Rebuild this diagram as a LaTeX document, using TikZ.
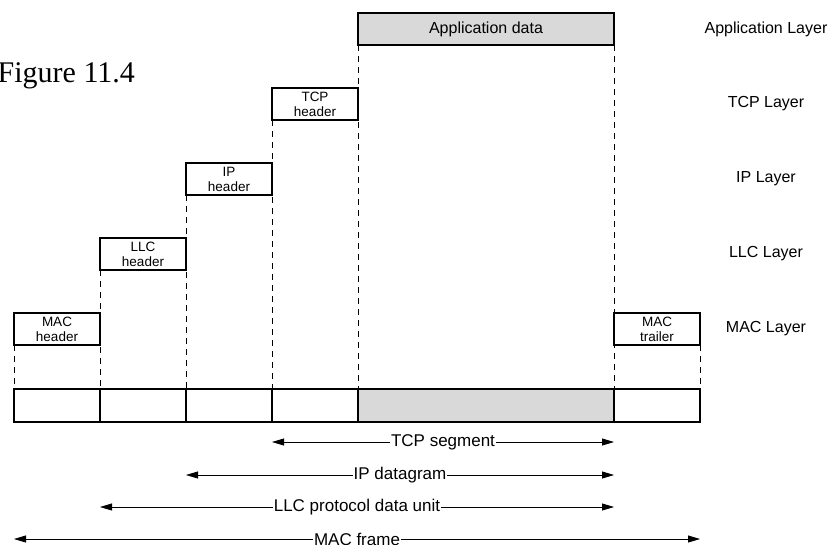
\documentclass[tikz,border=0pt]{standalone}
\usepackage{fontspec}
\setmainfont{Liberation Sans}
\newfontfamily\figfont{Liberation Serif}
\usepackage{tikz}
\usetikzlibrary{arrows.meta, positioning}
\definecolor{PDUGray}{HTML}{D9D9D9}

\begin{document}
\begin{tikzpicture}[
  x=1pt, y=-1pt,
  pdu/.style={rectangle, draw, line width=1.8pt, outer sep=0pt, inner sep=0pt, minimum width=86pt, minimum height=32pt, align=center, font=\fontsize{13.5}{15}\selectfont},
  appbox/.style={pdu, minimum width=256pt, fill=PDUGray, font=\fontsize{16}{18}\selectfont},
  cell/.style={pdu, minimum height=33pt},
  layer/.style={font=\fontsize{16}{18}\selectfont},
  guide/.style={line width=0.9pt, dash pattern=on 6pt off 5pt},
  span/.style={{Triangle[length=12pt,width=7pt]}-{Triangle[length=12pt,width=7pt]}, line width=0.8pt},
  lbl/.style={fill=white, inner sep=1pt, font=\fontsize{17}{19}\selectfont}
]
\useasboundingbox (0,0) rectangle (830,544);

\node[anchor=base west, inner sep=0pt, font=\figfont\fontsize{30}{32}\selectfont] (fig) at (-2.5,82) {Figure 11.4};

% headers, one layer down each
\node[appbox] (app) at (486,29) {Application data};
\node[pdu, below left=43pt and 0pt of app] (tcphdr) {TCP\\header};
\node[pdu, below left=43pt and 0pt of tcphdr] (iphdr) {IP\\header};
\node[pdu, below left=43pt and 0pt of iphdr] (llchdr) {LLC\\header};
\node[pdu, below left=43pt and 0pt of llchdr] (machdr) {MAC\\header};
\node[pdu, anchor=north west] (mactrl) at (app.south east |- machdr.north) {MAC\\trailer};

% the frame on the wire
\node[cell, below=44pt of machdr] (fmac) {};
\node[cell, right=0pt of fmac] (fllc) {};
\node[cell, right=0pt of fllc] (fip) {};
\node[cell, right=0pt of fip] (ftcp) {};
\node[cell, right=0pt of ftcp, minimum width=256pt, fill=PDUGray] (fapp) {};
\node[cell, right=0pt of fapp] (ftrl) {};

\coordinate (lay) at (766,0);
\node[layer] (applyr) at (app -| lay) {Application Layer};
\node[layer] (tcplyr) at (tcphdr -| lay) {TCP Layer};
\node[layer] (iplyr) at (iphdr -| lay) {IP Layer};
\node[layer] (llclyr) at (llchdr -| lay) {LLC Layer};
\node[layer] (maclyr) at (machdr -| lay) {MAC Layer};

\draw[guide] (machdr.south west) -- (fmac.north west);
\draw[guide] (llchdr.south west) -- (fllc.north west);
\draw[guide] (iphdr.south west) -- (fip.north west);
\draw[guide] (tcphdr.south west) -- (ftcp.north west);
\draw[guide] (app.south west) -- (fapp.north west);
\draw[guide] (app.south east) -- (fapp.north east);
\draw[guide] (mactrl.south east) -- (ftrl.north east);

\draw[span] ([yshift=-20pt]ftcp.south west) -- node[lbl]{TCP segment} ([yshift=-20pt]fapp.south east);
\draw[span] ([yshift=-53pt]fip.south west) -- node[lbl]{IP datagram} ([yshift=-53pt]fapp.south east);
\draw[span] ([yshift=-85pt]fllc.south west) -- node[lbl]{LLC protocol data unit} ([yshift=-85pt]fapp.south east);
\draw[span] ([yshift=-117pt]fmac.south west) -- node[lbl]{MAC frame} ([yshift=-117pt]ftrl.south east);
\end{tikzpicture}
\end{document}
